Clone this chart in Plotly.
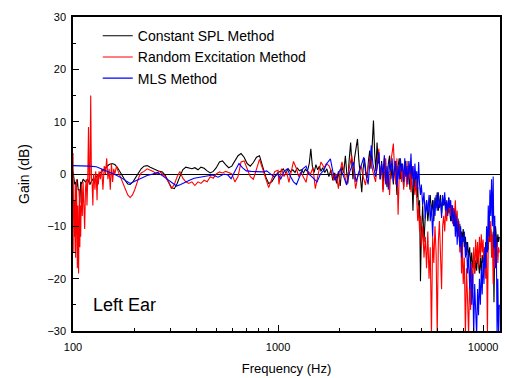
import plotly.graph_objects as go

# ---------------- data ----------------
f_high = [3100, 3150, 3200, 3250, 3300, 3350, 3400, 3450, 3500, 3550,
          3600, 3650, 3700, 3750, 3800, 3850, 3900, 3950, 4000, 4050,
          4100, 4150, 4200, 4250, 4300, 4350, 4400, 4450, 4500, 4550,
          4600, 4650, 4700, 4750, 4800, 4850, 4900, 4950,
          5000, 5075, 5150, 5225, 5300, 5375, 5450, 5525, 5600, 5675,
          5750, 5825, 5900, 5975, 6050, 6125, 6200, 6275, 6350, 6425,
          6500, 6575, 6650, 6725, 6800, 6875, 6950, 7025, 7100, 7175,
          7250, 7325, 7400, 7475, 7550, 7625, 7700, 7775, 7850, 7925,
          8000, 8100, 8200, 8300, 8400, 8500, 8600, 8700, 8800, 8900,
          9000, 9100, 9200, 9300, 9400, 9500, 9600, 9700, 9800, 9900,
          10000, 10100, 10200, 10300, 10400, 10500, 10600, 10700, 10800, 10900,
          11000, 11100, 11200, 11300, 11400, 11500, 11600, 11700, 11800, 11900,
          12000]

# Constant SPL Method (black)
f_black_low = [100, 101, 102, 103, 104, 105, 106, 107, 108, 109, 110,
               112, 115, 118, 121, 124, 127, 130,
               134, 138, 142, 146, 150,
               155, 160, 165, 170, 175, 180, 185, 190,
               196, 202, 208, 215, 222, 230, 238, 246, 255, 264, 273, 282, 292, 302, 312, 322, 332,
               343, 355, 367, 380, 393, 407, 421, 436, 451, 467, 483, 500,
               518, 536, 555, 575, 595, 616, 638, 660, 683, 707, 732, 758, 785, 812, 841, 870, 900, 932, 965, 1000,
               1030, 1060, 1090, 1120, 1150, 1180, 1210, 1240, 1270, 1300,
               1330, 1360, 1390, 1420, 1445, 1470, 1500, 1530, 1560, 1590,
               1620, 1650, 1690, 1730, 1770, 1810, 1850, 1890, 1930, 1970,
               2010, 2050, 2090, 2130, 2160, 2190, 2220, 2260, 2290, 2320,
               2360, 2400, 2440, 2480, 2520, 2560, 2600, 2640, 2680, 2720,
               2760, 2800, 2840, 2880, 2920, 2960, 3000, 3040, 3080]
g_black_low = [0.5, -1, -2, -1.5, -2.5, -1, -3, -3, -5.5, -1.5, -2,
               -1, -1.5, -1, -2, -1, -1.5, -0.5,
               0, 0.5, 1, 1.5, 1.8,
               2, 1.8, 1.2, 0.3, -0.6, -1.3, -1.9, -2,
               -1.5, -0.7, 0.3, 1, 1.5, 1.6, 1.3, 1, 0.7, 0.5, 0.4, -0.3, -1.5, -2.6, -2.8, -1.8, -0.5,
               0.8, 1.3, 1.2, 1, 1.2, 0.8, 1.3, 1.1, 0.6, 0.2, 0.5, 1.2,
               2.3, 2.5, 1.8, 1.2, 1.5, 2.5, 3.5, 3.9, 3.2, 2, 1.5, 2.2, 3.2, 3.5, 1.5, -0.5, -1.8, -1.5, -0.5, 0.3,
               0.5, 1, 0.2, 1, 0.4, 0.8, 0.3, 1.2, 0.6, 0.8,
               0.2, 0.9, 0.5, 2, 4.8, 1.5, 0.3, 1.8, 0.8, 1.5,
               0.5, 1.2, 0.3, 1, -0.5, 0.8, -1.2, 0.2, -1.8, 0.5,
               -2.3, 1.5, 0.2, 3.5, 0.5, -1.8, 2.5, 6, 2, -1,
               3, 5.5, 6.7, 2.5, -1.5, -3.5, 1, 3, 0.5, -0.8,
               2.5, 4.5, 1, 6, 10.2, 4, 0.5, 6, 2]
g_black_high = [4, -1, 2.5, -3, 3, 0, -2.5, 2, 3.5, -1,
                1.5, -2, 2.5, 0.5, -4, 1.5, 3, -1, 2, 0,
                -2.5, 1.5, 2.5, -1.5, 1, 0, -3, 2, -1, -7,
                -0.5, -3, 0.5, -4.5, -2.5, -8, -5, -20.5,
                -11.5, -6, -13, -8, -5, -9, -6, -4, -7.5, -5,
                -9, -4.5, -6.5, -3.5, -7, -5, -4, -7.5, -5, -6,
                -4.5, -8, -5.5, -6.5, -4.5, -7, -9, -6, -8, -6.5,
                -10, -7.5, -9, -11, -8.5, -12, -9.5, -13, -11, -12.5,
                -10.5, -14, -12, -15.5, -13, -16, -14, -17.5, -15, -18,
                -16, -19, -16.5, -18.5, -15.5, -17.5, -19, -16, -18.5, -15.5,
                -17, -14.5, -16, -13, -15, -12, -14.5, -11, -13, -10.5,
                -12.5, -15, -11, -24.5, -13, -10, -12, -14, -11.5, -13,
                -12]

# Random Excitation Method (red)
f_red_low = [100, 100.5, 101, 101.5, 102, 102.5, 103, 103.5, 104, 104.5,
             105, 105.5, 106, 106.5, 107, 107.5, 108, 108.5, 109,
             110, 111, 112, 113, 114, 115, 116, 117, 118, 119, 120, 121, 122, 123, 124,
             125, 126, 127, 128, 129, 130, 131, 132, 133, 134,
             136, 138, 140, 142, 144, 146, 148, 150, 152, 154, 156, 158, 160,
             163, 166, 170, 175, 180, 185, 190, 195, 200, 205, 210, 215,
             222, 230, 238, 246, 255, 264, 273, 282, 292, 302, 312, 322, 332,
             343, 355, 367, 380, 393, 407, 421, 436, 451, 467, 483, 500,
             518, 536, 555, 575, 595, 616, 638, 660, 683, 707, 732, 758, 785, 812, 841, 870, 900, 932, 965, 1000,
             1010, 1040, 1070, 1100, 1130, 1160, 1190, 1230, 1260, 1290,
             1330, 1370, 1400, 1440, 1480, 1520, 1570, 1620, 1680, 1720,
             1770, 1820, 1870, 1920, 1970, 2010, 2050, 2100, 2160, 2220,
             2290, 2340, 2390, 2460, 2540, 2600, 2670, 2740, 2820, 2900,
             2990, 3050]
g_red_low = [4, -3, -15, -5, -12, -2, -16, -8, -1, -13,
             -18, -6, -10, -19, -9, -3, -14, -6, -12,
             -2, -8, -1.5, -5, -10.5, -3, -1, -6, -1, 9, -2, 0, 15, -1, -2,
             -6, 0, -1, -3, 0.5, -1, -5, 0, -2, 0.5,
             -1, 1, -3, 1.5, 0, 3, -1, 1, -3, 2, -1.5, 1, 0,
             1.5, 0.5, -0.5, -2, -3, -4, -4.5, -4, -3, -1.5, -0.5, 0.2,
             0.5, 1, 0.7, 0.5, 0, 0.5, 0, -0.5, -1.5, -2.8, -2, -0.5, 0.5,
             -0.8, -1.5, -1.8, -1.5, -2.2, -1.5, -1.8, -1.2, -1.5, -0.5, -0.8, 0,
             0.4, 0.2, 0.5, 0.3, 0, -1.5, -0.5, 2.3, 2.5, 1, -0.5, -1, 0.8, 2.8, 1, -1, -2.6, -1, 0.5, 0.7,
             -2, 1, -0.5, 0.5, -1.6, 0.5, 2.4, 1, -0.5, 0.4,
             -0.5, -1.6, 0.5, 0, 1.2, -2.8, 0, 2.3, 1.2, 2,
             1.6, 0.5, -1.2, 0, -2.8, 0.5, 2.3, 0.5, -2.1, 1,
             3.5, 0.5, -2.8, 0, 1.6, -0.5, -2.1, 1, 3.5, 0.5,
             -1.5, 2]
g_red_high = [4.8, -1, 2, -3.5, 1, 3, -2, 0.5, -4, 2.5,
              4, 5.8, 1, -2, 3, -7.8, 0, 2.5, -1.5, 1.5,
              -3, 2, 0, -2.5, 2.5, -1, 1, -3.5, 0, 1.5,
              -2, -4, -1, -5, -9, -6, -11, -8,
              -14, -10, -16, -12, -18, -11, -20, -14, -31, -12,
              -17, -10, -15, -31, -13, -9, -16, -22, -10, -8,
              -11, -6.5, -9, -5.5, -7.5, -5, -8, -6, -9.5, -6.5,
              -8, -5, -10, -7, -12, -9, -15, -11, -19, -13,
              -21, -16, -31, -18, -24, -31, -20, -26, -17, -22,
              -14, -19, -12.5, -17, -13, -18, -12, -16, -11.5, -15,
              -12.5, -18, -14, -20, -15, -31, -12, -7, -13, -9,
              -16, -11.5, -21, -14, -18, -12, -16, -13, -17, -14,
              -15]

# MLS Method (blue)
f_blue_low = [100, 110, 120, 130, 140, 150, 160, 170, 180, 190,
              200, 215, 230, 245, 258, 275, 290, 305, 320, 335,
              350, 370, 390, 420, 450, 480, 510, 545, 570, 590,
              615, 645, 670, 700, 740, 790, 840, 880, 920, 955,
              1000, 1030, 1070, 1110, 1150, 1190, 1230, 1270, 1320, 1370,
              1410, 1460, 1500, 1550, 1610, 1670, 1730, 1800, 1850, 1900,
              1960, 2020, 2090, 2160, 2240, 2330, 2400, 2470, 2540, 2620,
              2680, 2750, 2850, 2900, 2990, 3050]
g_blue_low = [1.6, 1.6, 1.5, 1.4, 0.9, 0.4, -0.1, -0.6, -1.2, -1.8,
              -1.4, -0.8, -0.3, 0, 0.3, -0.4, -1.1, -1.7, -2.3, -2,
              -1.6, -1.2, -0.8, -0.6, -0.5, -0.2, -0.6, 0, -0.2, -0.9,
              0.5, 2, 1.2, 0.6, 0.5, 0.5, 0.4, 0.6, 0, -0.5,
              0, -1, 0.5, 1, -0.5, -1.5, -2, -0.5, 1, 1.5,
              0, -0.5, -1, -1.5, 0, 0.7, 2, 2.9, 0.5, -1.2,
              0, 1, -0.5, -2.1, 0.5, 2.3, -1.5, 0, 1.5, 3.2,
              0, -2, 5.5, 2, -0.5, 1.5]
g_blue_high = [4.2, -1, 2, 0, 3.6, -2, 1.5, -3, 2.5, 0.5,
               3, -1.5, 1, 2.5, -2.5, 1.5, -1, 3, 0.5, 2,
               -1.5, 3, -0.5, 1.5, -2, 2.5, 0, 3.9, -1, 1.5,
               -2.5, 2, -1, 0.5, -3, 2.3, -2, -4,
               -2, -6, -3.5, -8.5, -5, -7.5, -4, -9, -6, -12,
               -5, -8, -4, -7, -3.5, -6.5, -5, -8.4, -4, -6,
               -3.5, -7, -5, -8, -4.5, -6.5, -5, -9, -6, -10,
               -7, -12, -8, -13.5, -9, -11, -14, -10, -16, -12,
               -13, -11, -16, -13, -19, -15, -22, -17, -25, -19,
               -31, -21, -26, -31, -22, -27, -20, -25, -18, -23,
               -16, -21, -14, -18, -10, -15, -6, -12, -3, -8,
               -1, -10, -0.5, -14, -8, -18, -12, -31, -20, -31,
               -25]

series_names = ["Constant SPL Method", "Random Excitation Method", "MLS Method"]
x_tick_vals = [100, 1000, 10000]
x_tick_text = ["100", "1000", "10000"]
x_minor_vals = [200, 300, 400, 500, 600, 700, 800, 900,
                2000, 3000, 4000, 5000, 6000, 7000, 8000, 9000]

# ---------------- figure ----------------
FONT = "Liberation Sans, Arial, sans-serif"
fig = go.Figure()
fig.add_trace(go.Scatter(x=f_black_low + f_high, y=g_black_low + g_black_high,
                         mode="lines", name=series_names[0],
                         line=dict(color="#000000", width=1.1)))
fig.add_trace(go.Scatter(x=f_red_low + f_high, y=g_red_low + g_red_high,
                         mode="lines", name=series_names[1],
                         line=dict(color="#ff0000", width=1.1)))
fig.add_trace(go.Scatter(x=f_blue_low + f_high, y=g_blue_low + g_blue_high,
                         mode="lines", name=series_names[2],
                         line=dict(color="#0000ff", width=1.1)))

fig.update_layout(
    width=506, height=378,
    margin=dict(l=73, r=4, t=17, b=44),
    paper_bgcolor="white", plot_bgcolor="white",
    font=dict(family=FONT, color="#000000"),
    showlegend=True,
    legend=dict(x=0.058, y=0.99, xanchor="left", yanchor="top",
                bgcolor="rgba(0,0,0,0)", borderwidth=0,
                font=dict(size=14, family=FONT), tracegroupgap=0),
    annotations=[dict(text="Left Ear", xref="paper", yref="paper",
                      x=0.042, y=0.082, xanchor="left", yanchor="middle",
                      showarrow=False, font=dict(size=18, family=FONT))],
)
fig.update_xaxes(
    type="log", range=[2, 4.0825],
    tickmode="array", tickvals=x_tick_vals, ticktext=x_tick_text,
    ticks="inside", ticklen=6, tickwidth=1, tickcolor="#000000",
    minor=dict(tickmode="array", tickvals=x_minor_vals, ticks="inside",
               ticklen=3, tickwidth=1, tickcolor="#000000", showgrid=False),
    showline=True, linewidth=1.5, linecolor="#000000", mirror=True,
    showgrid=False, zeroline=False,
    tickfont=dict(size=11), ticklabelstandoff=5,
    title=dict(text="Frequency (Hz)", font=dict(size=13, color="#000000"), standoff=12),
)
fig.update_yaxes(
    range=[-30, 30], tickmode="linear", tick0=0, dtick=10,
    ticks="inside", ticklen=6, tickwidth=1, tickcolor="#000000",
    minor=dict(dtick=5, ticks="inside", ticklen=3, tickwidth=1,
               tickcolor="#000000", showgrid=False),
    showline=True, linewidth=1.5, linecolor="#000000", mirror=True,
    showgrid=False, zeroline=True, zerolinecolor="#000000", zerolinewidth=1,
    tickfont=dict(size=11), ticklabelstandoff=3,
    title=dict(text="Gain (dB)", font=dict(size=14, color="#000000"), standoff=14),
)

fig.write_html("out.html",
               config={"displayModeBar": False},
               post_script="document.body.style.margin='0';document.body.style.padding='0';")
